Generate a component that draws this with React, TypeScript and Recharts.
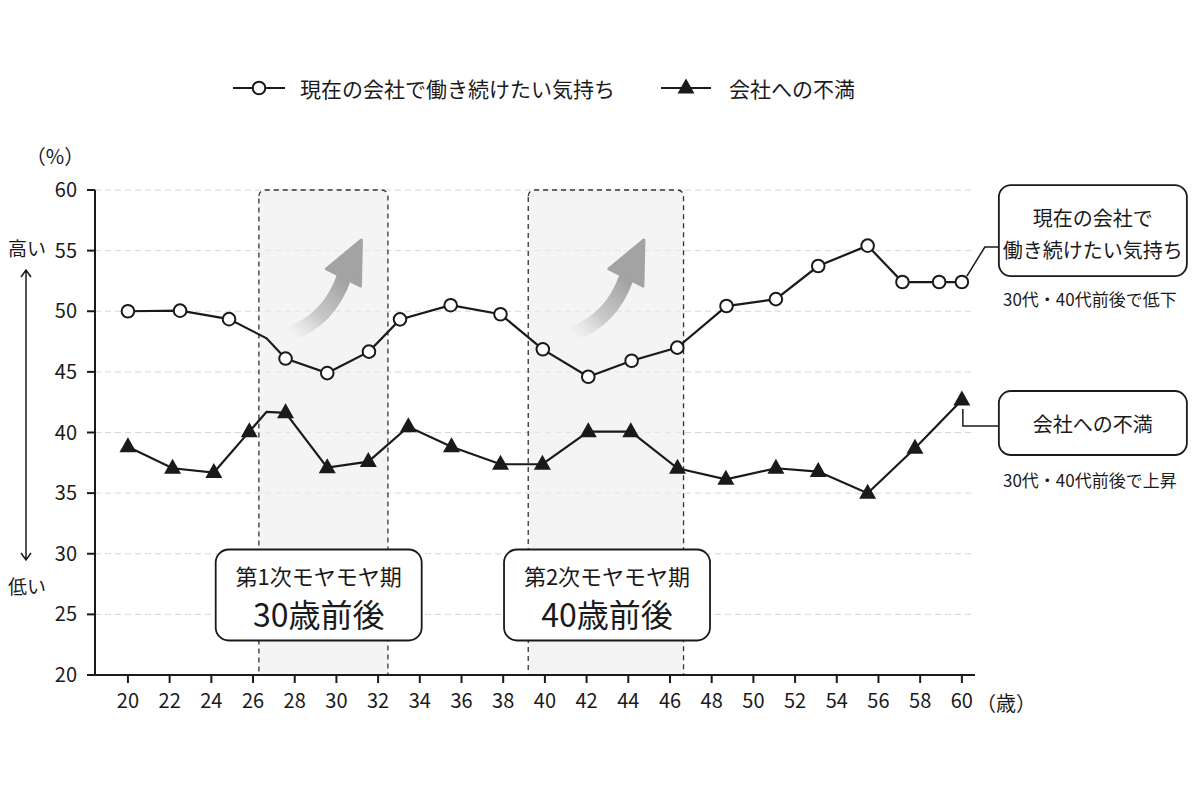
import React from 'react'

import { LineChart, Line, XAxis, YAxis, CartesianGrid, ReferenceArea, ReferenceDot, Legend, Label } from 'recharts'

// 現在の会社で働き続けたい気持ち (%)
const wishAges = [20, 22.5, 24.85, 26.65, 27.56, 29.56, 31.56, 33.05, 35.48, 37.87, 39.9, 42.08, 44.16, 46.35, 48.71, 51.08, 53.11, 55.48, 57.15, 58.91, 60]
const wishValues = [50, 50.05, 49.35, 47.77, 46.1, 44.9, 46.67, 49.33, 50.5, 49.75, 46.86, 44.6, 45.92, 47.0, 50.43, 51.0, 53.73, 55.41, 52.41, 52.41, 52.41]
const wishBends = [3] // line bends without marker

// 会社への不満 (%)
const complaintAges = [20, 22.14, 24.12, 25.82, 26.65, 27.56, 29.56, 31.53, 33.45, 35.52, 37.87, 39.88, 42.08, 44.12, 46.36, 48.68, 51.08, 53.11, 55.48, 57.75, 60]
const complaintValues = [38.83, 37.05, 36.7, 40.07, 41.7, 41.62, 37.1, 37.6, 40.48, 38.83, 37.38, 37.38, 40.07, 40.07, 37.05, 36.14, 37.05, 36.78, 34.99, 38.7, 42.68]
const complaintBends = [4]

const xTicks = [20, 22, 24, 26, 28, 30, 32, 34, 36, 38, 40, 42, 44, 46, 48, 50, 52, 54, 56, 58, 60]
const yTicks = [20, 25, 30, 35, 40, 45, 50, 55, 60]

// モヤモヤ期
const periodStarts = [26.28, 39.2]
const periodEnds = [32.47, 46.65]
const periodTitles = ['第1次モヤモヤ期', '第2次モヤモヤ期']
const periodAges = ['30歳前後', '40歳前後']
const periodBoxAges = [29.15, 42.98]
const periodArrowAges = [31.2, 44.75]

const FONT = '"Noto Sans CJK JP", "Noto Sans", sans-serif'
const INK = '#1a1a1a'
const ARROW = '#a3a3a3'

const wishData = wishAges.map((age, i) => ({ age, v: wishValues[i], bend: wishBends.includes(i) }))
const complaintData = complaintAges.map((age, i) => ({ age, v: complaintValues[i], bend: complaintBends.includes(i) }))

function CircleDot(props: any) {
  const { cx, cy, payload, index } = props
  if (payload.bend) return <g key={'c' + index} />
  return <circle key={'c' + index} cx={cx} cy={cy} r={6.3} fill='#fff' stroke={INK} strokeWidth={2} />
}

function TriangleDot(props: any) {
  const { cx, cy, payload, index } = props
  if (payload.bend) return <g key={'t' + index} />
  return <path key={'t' + index} d={`M${cx},${cy - 9.5}L${cx + 8.5},${cy + 5.5}L${cx - 8.5},${cy + 5.5}Z`} fill={INK} />
}

function LegendContent() {
  return (
    <div style={{ display: 'flex', alignItems: 'center', height: 30, paddingLeft: 233, fontFamily: FONT, fontSize: 21, color: INK }}>
      <svg width={52} height={20}>
        <line x1={0} y1={10} x2={52} y2={10} stroke={INK} strokeWidth={2.2} />
        <circle cx={26} cy={10} r={6.3} fill='#fff' stroke={INK} strokeWidth={2} />
      </svg>
      <span style={{ marginLeft: 15 }}>現在の会社で働き続けたい気持ち</span>
      <svg width={50} height={20} style={{ marginLeft: 46 }}>
        <line x1={0} y1={10} x2={50} y2={10} stroke={INK} strokeWidth={2.2} />
        <path d='M25,0.5L33.5,15.5L16.5,15.5Z' fill={INK} />
      </svg>
      <span style={{ marginLeft: 18 }}>会社への不満</span>
    </div>
  )
}

function YSideLabel(props: any) {
  const { x, y } = props.viewBox
  const ax = x - 9
  return (
    <g fill={INK} fontSize={19}>
      <text x={x + 20} y={y - 35} textAnchor='middle' dominantBaseline='central' fontSize={20}>（%）</text>
      <text x={x - 8} y={y + 57} textAnchor='middle' dominantBaseline='central'>高い</text>
      <path d={`M${ax},${y + 80}L${ax},${y + 370}M${ax - 5},${y + 87}L${ax},${y + 80}L${ax + 5},${y + 87}M${ax - 5},${y + 363}L${ax},${y + 370}L${ax + 5},${y + 363}`} stroke={INK} strokeWidth={1.5} fill='none' />
      <text x={x - 8} y={y + 395} textAnchor='middle' dominantBaseline='central'>低い</text>
    </g>
  )
}

function XSideLabel(props: any) {
  const { x, y, width } = props.viewBox
  return (
    <text x={x + width + 1} y={y + 27} fill={INK} fontSize={20} dominantBaseline='central'>（歳）</text>
  )
}

function RiseArrow(props: any) {
  const { cx, cy, id } = props
  return (
    <g>
      <defs>
        <linearGradient id={id} gradientUnits='userSpaceOnUse' x1={cx - 72} y1={cy + 94} x2={cx - 20} y2={cy + 40}>
          <stop offset='0' stopColor='#d0d0d0' stopOpacity={0} />
          <stop offset='0.45' stopColor='#bdbdbd' stopOpacity={0.8} />
          <stop offset='1' stopColor={ARROW} stopOpacity={1} />
        </linearGradient>
      </defs>
      <path d={`M${cx - 72},${cy + 94}Q${cx - 32},${cy + 80} ${cx - 17},${cy + 36}`} stroke={`url(#${id})`} strokeWidth={15} fill='none' />
      <path d={`M${cx},${cy}L${cx - 35},${cy + 29}L${cx - 1},${cy + 46}Z`} fill={ARROW} stroke={ARROW} strokeWidth={3} strokeLinejoin='round' />
    </g>
  )
}

function PeriodBox(props: any) {
  const { cx, cy, title, age } = props
  return (
    <g>
      <rect x={cx - 103} y={cy - 45} width={206} height={91} rx={13} fill='#fff' stroke={INK} strokeWidth={1.8} />
      <text x={cx} y={cy - 19} textAnchor='middle' dominantBaseline='central' fontSize={22} fill={INK}>{title}</text>
      <text x={cx} y={cy + 19} textAnchor='middle' dominantBaseline='central' fontSize={32} fill={INK}>{age}</text>
    </g>
  )
}

function WishTag(props: any) {
  const { cx, cy } = props
  const bx = cx + 37
  return (
    <g>
      <path d={`M${cx + 5},${cy - 6}L${cx + 23},${cy - 35}L${bx},${cy - 35}`} stroke={INK} strokeWidth={1.5} fill='none' />
      <rect x={bx} y={cy - 97} width={188} height={91} rx={12} fill='#fff' stroke={INK} strokeWidth={1.8} />
      <text x={bx + 94} y={cy - 65} textAnchor='middle' dominantBaseline='central' fontSize={20} fill={INK}>現在の会社で</text>
      <text x={bx + 94} y={cy - 33} textAnchor='middle' dominantBaseline='central' fontSize={20} fill={INK}>働き続けたい気持ち</text>
      <text x={bx + 91} y={cy + 16} textAnchor='middle' dominantBaseline='central' fontSize={17} fill={INK}>30代・40代前後で低下</text>
    </g>
  )
}

function ComplaintTag(props: any) {
  const { cx, cy } = props
  const bx = cx + 37
  return (
    <g>
      <path d={`M${cx + 1},${cy + 9}L${cx + 1},${cy + 26}L${bx},${cy + 26}`} stroke={INK} strokeWidth={1.5} fill='none' />
      <rect x={bx} y={cy - 9} width={188} height={64} rx={12} fill='#fff' stroke={INK} strokeWidth={1.8} />
      <text x={bx + 94} y={cy + 23} textAnchor='middle' dominantBaseline='central' fontSize={20} fill={INK}>会社への不満</text>
      <text x={bx + 91} y={cy + 79} textAnchor='middle' dominantBaseline='central' fontSize={17} fill={INK}>30代・40代前後で上昇</text>
    </g>
  )
}

export default function App(): JSX.Element {
  return (
    <div style={{ position: 'absolute', left: 0, top: 0, width: 1200, height: 800, background: '#fff', fontFamily: FONT }}>
      <LineChart width={1200} height={800} margin={{ top: 160, right: 225, bottom: 85, left: 35 }}>
        <Legend verticalAlign='top' content={LegendContent} wrapperStyle={{ top: 73, left: 0, width: 1200, height: 30 }} />
        <CartesianGrid vertical={false} stroke='#d6d6d6' strokeDasharray='6 4' />
        {periodStarts.map((s, i) => (
          <ReferenceArea key={'area' + i} x1={s} x2={periodEnds[i]} y1={20} y2={60} fill='#ededed' fillOpacity={0.6} stroke='#333' strokeWidth={1.3} strokeDasharray='5 4' radius={[6, 6, 0, 0]} />
        ))}
        <XAxis dataKey='age' type='number' domain={[18.42, 60.63]} ticks={xTicks} height={40} stroke={INK} strokeWidth={2} tickSize={8} tickMargin={11} tick={{ fill: INK, fontSize: 20 }} allowDataOverflow>
          <Label content={XSideLabel} />
        </XAxis>
        <YAxis type='number' domain={[20, 60]} ticks={yTicks} width={60} stroke={INK} strokeWidth={2} tickSize={8} tickMargin={10} tick={{ fill: INK, fontSize: 20 }}>
          <Label content={YSideLabel} />
        </YAxis>
        {periodArrowAges.map((a, i) => (
          <ReferenceDot key={'arrow' + i} x={a} y={55.88} r={0} ifOverflow='visible' shape={(p: any) => <RiseArrow {...p} id={'riseGrad' + i} />} />
        ))}
        <Line data={wishData} dataKey='v' name='現在の会社で働き続けたい気持ち' stroke={INK} strokeWidth={2.2} dot={CircleDot} activeDot={false} isAnimationActive={false} />
        <Line data={complaintData} dataKey='v' name='会社への不満' stroke={INK} strokeWidth={2.2} dot={TriangleDot} activeDot={false} isAnimationActive={false} />
        {periodBoxAges.map((a, i) => (
          <ReferenceDot key={'box' + i} x={a} y={26.64} r={0} ifOverflow='visible' shape={(p: any) => <PeriodBox {...p} title={periodTitles[i]} age={periodAges[i]} />} />
        ))}
        <ReferenceDot x={wishAges[wishAges.length - 1]} y={wishValues[wishValues.length - 1]} r={0} ifOverflow='visible' shape={(p: any) => <WishTag {...p} />} />
        <ReferenceDot x={complaintAges[complaintAges.length - 1]} y={complaintValues[complaintValues.length - 1]} r={0} ifOverflow='visible' shape={(p: any) => <ComplaintTag {...p} />} />
      </LineChart>
    </div>
  )
}
